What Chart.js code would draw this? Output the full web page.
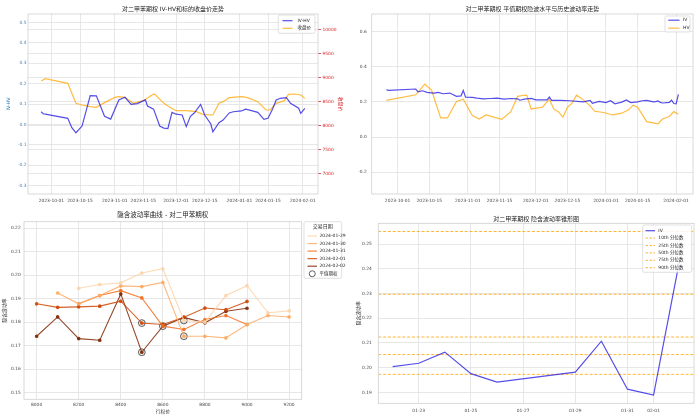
<!DOCTYPE html>
<html>
<head>
<meta charset="utf-8">
<script src="https://cdn.jsdelivr.net/npm/chart.js@4.4.1/dist/chart.umd.min.js"></script>
<style>
  html, body { margin: 0; padding: 0; background: #fff; }
  #wrap { position: relative; width: 700px; height: 419px; overflow: hidden; }
  #wrap canvas { position: absolute; }
</style>
</head>
<body>
<div id="wrap">
  <canvas id="c1" width="350" height="210" style="left:0;top:0"></canvas>
  <canvas id="c2" width="350" height="210" style="left:350px;top:0"></canvas>
  <canvas id="c3" width="350" height="209" style="left:0;top:210px"></canvas>
  <canvas id="c4" width="350" height="209" style="left:350px;top:210px"></canvas>
</div>
<script>
// ─── Data: IV-HV vs underlying close (top left) ──────────────────────────────
const ivhvDates = ['2023-09-26','2023-09-27','2023-09-28','2023-10-09','2023-10-11','2023-10-13','2023-10-16','2023-10-20','2023-10-23','2023-10-27','2023-10-30','2023-11-03','2023-11-06','2023-11-09','2023-11-12','2023-11-16','2023-11-17','2023-11-20','2023-11-23','2023-11-25','2023-11-27','2023-11-29','2023-12-01','2023-12-04','2023-12-06','2023-12-08','2023-12-10','2023-12-13','2023-12-15','2023-12-18','2023-12-19','2023-12-22','2023-12-24','2023-12-27','2023-12-29','2024-01-02','2024-01-04','2024-01-06','2024-01-10','2024-01-13','2024-01-15','2024-01-17','2024-01-19','2024-01-21','2024-01-24','2024-01-26','2024-01-30','2024-01-31','2024-02-02'];
const ivhvVals  = [0.062,0.052,0.050,0.030,-0.016,-0.041,-0.008,0.141,0.140,0.040,0.026,0.120,0.133,0.098,0.102,0.120,0.090,0.075,-0.008,-0.018,-0.020,0.059,0.050,0.046,-0.011,0.040,0.057,0.098,0.046,0.002,-0.036,0.008,0.021,0.056,0.062,0.066,0.075,0.070,0.059,0.025,0.030,0.070,0.120,0.128,0.131,0.103,0.079,0.054,0.079];

const closeDates = ['2023-09-26','2023-09-28','2023-10-09','2023-10-13','2023-10-16','2023-10-20','2023-10-23','2023-10-27','2023-11-01','2023-11-03','2023-11-06','2023-11-10','2023-11-15','2023-11-20','2023-11-21','2023-11-25','2023-11-28','2023-12-01','2023-12-06','2023-12-11','2023-12-14','2023-12-19','2023-12-22','2023-12-24','2023-12-27','2024-01-02','2024-01-05','2024-01-10','2024-01-14','2024-01-16','2024-01-19','2024-01-23','2024-01-25','2024-01-28','2024-01-31','2024-02-02'];
const closeVals  = [8927,8975,8878,8463,8428,8393,8380,8477,8587,8601,8587,8463,8518,8657,8636,8463,8380,8310,8310,8290,8234,8220,8463,8497,8580,8601,8580,8497,8324,8324,8463,8518,8650,8657,8636,8566];

const dateTicks  = ['2023-10-01','2023-10-15','2023-11-01','2023-11-15','2023-12-01','2023-12-15','2024-01-01','2024-01-15','2024-02-01'];
const ivhvTicks  = [-0.3,-0.2,-0.1,0,0.1,0.2,0.3,0.4,0.5];
const closeTicks = [7000,7500,8000,8500,9000,9500,10000];

// ─── Data: ATM IV vs HV (top right) ──────────────────────────────────────────
const ivDates = ['2023-09-26','2023-09-27','2023-10-09','2023-10-10','2023-10-12','2023-10-14','2023-10-17','2023-10-19','2023-10-21','2023-10-24','2023-10-27','2023-10-29','2023-10-30','2023-10-31','2023-11-03','2023-11-05','2023-11-08','2023-11-11','2023-11-14','2023-11-17','2023-11-20','2023-11-23','2023-11-24','2023-11-26','2023-11-29','2023-12-01','2023-12-06','2023-12-07','2023-12-08','2023-12-12','2023-12-16','2023-12-22','2023-12-25','2023-12-26','2023-12-29','2024-01-01','2024-01-03','2024-01-05','2024-01-08','2024-01-10','2024-01-12','2024-01-15','2024-01-17','2024-01-19','2024-01-22','2024-01-23','2024-01-24','2024-01-25','2024-01-26','2024-01-29','2024-01-30','2024-01-31','2024-02-01','2024-02-02'];
const ivVals  = [0.270,0.266,0.274,0.258,0.264,0.255,0.251,0.255,0.247,0.251,0.232,0.235,0.266,0.228,0.226,0.222,0.218,0.220,0.222,0.216,0.220,0.218,0.210,0.216,0.220,0.212,0.212,0.228,0.209,0.209,0.207,0.201,0.209,0.193,0.203,0.197,0.207,0.190,0.199,0.212,0.197,0.201,0.207,0.209,0.2004,0.2018,0.2063,0.1976,0.1942,0.1982,0.2107,0.1913,0.1889,0.2435];

const hvDates = ['2023-09-26','2023-10-09','2023-10-13','2023-10-16','2023-10-20','2023-10-23','2023-10-27','2023-10-30','2023-11-03','2023-11-06','2023-11-09','2023-11-16','2023-11-20','2023-11-23','2023-11-25','2023-11-27','2023-11-29','2023-12-01','2023-12-04','2023-12-07','2023-12-09','2023-12-11','2023-12-13','2023-12-15','2023-12-17','2023-12-19','2023-12-22','2023-12-25','2023-12-27','2023-12-31','2024-01-04','2024-01-08','2024-01-11','2024-01-13','2024-01-15','2024-01-19','2024-01-24','2024-01-26','2024-01-29','2024-01-31','2024-02-02'];
const hvVals  = [0.209,0.241,0.302,0.266,0.109,0.109,0.203,0.216,0.122,0.103,0.126,0.101,0.145,0.232,0.237,0.239,0.159,0.165,0.170,0.216,0.159,0.145,0.113,0.170,0.193,0.239,0.212,0.178,0.147,0.140,0.126,0.136,0.155,0.182,0.170,0.088,0.075,0.103,0.117,0.145,0.130];

const volTicks = [-0.2,0,0.2,0.4,0.6];

// ─── Data: IV smile by trade date (bottom left) ──────────────────────────────
const strikes    = [8000,8100,8200,8300,8400,8500,8600,8700,8800,8900,9000,9100,9200];
const smileDates = ['2024-01-29','2024-01-30','2024-01-31','2024-02-01','2024-02-02'];
const iv0129 = [null,null,0.1944,0.1960,0.1967,0.2009,0.2027,0.1807,0.1800,0.1913,0.1955,0.1840,0.1848];
const iv0130 = [null,0.1924,0.1878,0.1913,0.1954,0.1951,0.1969,0.1740,0.1740,0.1733,0.1790,0.1828,0.1822];
const iv0131 = [null,null,0.1878,0.1913,0.1934,0.1903,0.1783,0.1769,0.1811,0.1828,0.1790,null,null];
const iv0201 = [0.1878,0.1863,0.1865,0.1868,0.1889,0.1796,0.1790,0.1821,0.1860,0.1853,0.1888,null,null];
const iv0202 = [0.1740,0.1822,0.1730,0.1723,0.1920,0.1672,0.1783,0.1820,0.1797,0.1846,0.1859,null,null];
const atmStrikes = [8700,8700,8600,8500,8500];
const atmIvs     = [0.1807,0.1740,0.1783,0.1796,0.1672];
const strikeTicks = [8000,8200,8400,8600,8800,9000,9200];
const smileTicks  = [0.15,0.16,0.17,0.18,0.19,0.20,0.21,0.22];

// ─── Data: IV cone (bottom right) ────────────────────────────────────────────
const coneDates  = ['2024-01-22','2024-01-23','2024-01-24','2024-01-25','2024-01-26','2024-01-29','2024-01-30','2024-01-31','2024-02-01','2024-02-02'];
const coneIv     = [0.2004,0.2018,0.2063,0.1976,0.1942,0.1982,0.2107,0.1913,0.1889,0.2435];
const pctLabels  = ['10th 分位数','25th 分位数','50th 分位数','75th 分位数','90th 分位数'];
const pctVals    = [0.1973,0.2053,0.2124,0.2297,0.2551];
const coneTicks  = ['2024-01-23','2024-01-25','2024-01-27','2024-01-29','2024-01-31','2024-02-01'];
const coneYTicks = [0.19,0.20,0.21,0.22,0.23,0.24,0.25];

// ─── Style ───────────────────────────────────────────────────────────────────
const FONT   = "'DejaVu Sans','Noto Sans CJK SC',sans-serif";
const GRID   = '#e1e1e1';
const SPINE  = '#cfcfcf';
const TICK   = '#444444';
const BLUE   = 'rgba(20,10,225,0.72)';
const ORANGE = 'rgba(255,165,0,0.75)';
const RED    = '#d62728';
const SMILE_COLORS = ['rgba(253,212,170,0.85)','rgba(253,170,100,0.85)','rgba(243,112,30,0.85)','rgba(205,70,5,0.85)','rgba(127,39,4,0.85)'];

Chart.defaults.font.family = FONT;
Chart.defaults.animation = false;

// ─── Helpers ─────────────────────────────────────────────────────────────────
function dayNum(s) {
  const [y, m, d] = s.split('-').map(Number);
  return Date.UTC(y, m - 1, d) / 864e5;
}
function points(xs, ys, fx) {
  return xs.map((x, i) => ({ x: fx ? fx(x) : x, y: ys[i] })).filter(p => p.y != null);
}
function pad(lo, hi, f) {
  const r = hi - lo;
  return [lo - r * f, hi + r * f];
}

function axis(o) {
  const s = {
    type: 'linear', position: o.pos, min: o.min, max: o.max,
    grid: {
      display: true, color: GRID, lineWidth: 0.8,
      drawTicks: !!o.tickLen, tickLength: o.tickLen || 0, tickColor: o.tickColor || GRID,
    },
    border: { display: false },
    ticks: {
      autoSkip: false, maxRotation: 0, padding: o.pad,
      color: o.color || TICK, font: { family: FONT, size: 4.4 },
      callback: (v, i) => o.fmt(v, i),
    },
    afterBuildTicks: sc => { sc.ticks = o.ticks.map(v => ({ value: v })); },
    afterFit: sc => { if (o.pos === 'bottom') sc.height = o.size; else sc.width = o.size; },
  };
  if (o.title) {
    s.title = {
      display: true, text: o.title, color: o.titleColor || '#333',
      font: { family: FONT, size: 4.8 }, padding: { top: o.titlePad, bottom: o.titlePad },
    };
  }
  return s;
}

function title(text, size, top, bottom) {
  return {
    display: true, text, fullSize: false, color: '#262626',
    font: { family: FONT, size, weight: 'normal', lineHeight: 1.2 },
    padding: { top, bottom },
  };
}

// axes frame like matplotlib spines
const spines = {
  id: 'spines',
  afterDatasetsDraw(chart) {
    const { ctx, chartArea: a } = chart;
    ctx.save();
    ctx.strokeStyle = SPINE;
    ctx.lineWidth = 0.8;
    ctx.strokeRect(a.left, a.top, a.right - a.left, a.bottom - a.top);
    ctx.restore();
  },
};

// matplotlib-style legend box
function legend(cfg) {
  return {
    id: 'mplLegend',
    afterDraw(chart) {
      const ctx = chart.ctx;
      const b = cfg.box;
      ctx.save();
      ctx.fillStyle = 'rgba(255,255,255,0.85)';
      ctx.strokeStyle = '#d3d3d3';
      ctx.lineWidth = 0.7;
      ctx.beginPath();
      ctx.roundRect(b.x, b.y, b.w, b.h, 1.5);
      ctx.fill();
      ctx.stroke();
      ctx.textBaseline = 'middle';
      if (cfg.title) {
        ctx.fillStyle = '#262626';
        ctx.font = `5px ${FONT}`;
        ctx.textAlign = 'center';
        ctx.fillText(cfg.title, b.x + b.w / 2, cfg.titleY);
      }
      ctx.textAlign = 'left';
      cfg.items.forEach((it, i) => {
        const y = cfg.y0 + i * cfg.step;
        if (it.ring) {
          ctx.beginPath();
          ctx.arc((cfg.lx0 + cfg.lx1) / 2, y, 3, 0, Math.PI * 2);
          ctx.strokeStyle = 'rgba(50,50,50,0.85)';
          ctx.lineWidth = 0.9;
          ctx.stroke();
        } else {
          ctx.beginPath();
          ctx.setLineDash(it.dash || []);
          ctx.moveTo(cfg.lx0, y);
          ctx.lineTo(cfg.lx1, y);
          ctx.strokeStyle = it.color;
          ctx.lineWidth = it.width || 1.2;
          ctx.stroke();
          ctx.setLineDash([]);
        }
        ctx.fillStyle = '#262626';
        ctx.font = `4.5px ${FONT}`;
        ctx.fillText(it.label, cfg.tx, y);
      });
      ctx.restore();
    },
  };
}

function lineSet(label, data, color, yAxisID) {
  return {
    label, data, yAxisID, borderColor: color, backgroundColor: color,
    borderWidth: 1.2, pointRadius: 0, pointHoverRadius: 0, tension: 0,
  };
}

// ─── 1. IV-HV and close ──────────────────────────────────────────────────────
(function () {
  const xs = ivhvDates.concat(closeDates).map(dayNum);
  const [xmin, xmax] = pad(Math.min(...xs), Math.max(...xs), 0.05);
  const ylo = Math.min(...ivhvVals) - 0.3, yhi = Math.max(...ivhvVals) + 0.4;
  const clo = Math.min(...closeVals) * 0.8, chi = Math.max(...closeVals) * 1.15;

  new Chart(document.getElementById('c1'), {
    type: 'line',
    data: {
      datasets: [
        lineSet('IV-HV', points(ivhvDates, ivhvVals, dayNum), BLUE, 'y'),
        lineSet('收盘价', points(closeDates, closeVals, dayNum), ORANGE, 'y1'),
      ],
    },
    options: {
      responsive: false,
      layout: { padding: 0 },
      plugins: { legend: { display: false }, tooltip: { enabled: false }, title: title('对二甲苯期权 IV-HV和标的收盘价走势', 6, 5.4, 1.4) },
      scales: {
        x: axis({ pos: 'bottom', min: xmin, max: xmax, ticks: dateTicks.map(dayNum), fmt: (v, i) => dateTicks[i], size: 16, pad: 4.3 }),
        y: axis({ pos: 'left', min: ylo, max: yhi, ticks: ivhvTicks, fmt: v => v.toFixed(1), size: 28, pad: 1.5,
                  color: '#4a80b0', title: 'IV-HV', titleColor: '#1f77b4', titlePad: 6 }),
        y1: axis({ pos: 'right', min: clo, max: chi, ticks: closeTicks, fmt: v => String(v), size: 32, pad: 1.5,
                   color: RED, tickLen: 3, tickColor: RED, title: '收盘价', titleColor: RED, titlePad: 7 }),
      },
    },
    plugins: [spines, legend({
      box: { x: 278.3, y: 15, w: 36.7, h: 18.3 }, y0: 20.7, step: 7.6, lx0: 282.5, lx1: 292.5, tx: 297.5,
      items: [{ label: 'IV-HV', color: BLUE }, { label: '收盘价', color: ORANGE }],
    })],
  });
})();

// ─── 2. ATM IV vs HV ─────────────────────────────────────────────────────────
(function () {
  const xs = ivDates.concat(hvDates).map(dayNum);
  const [xmin, xmax] = pad(Math.min(...xs), Math.max(...xs), 0.05);
  const all = ivVals.concat(hvVals);
  const ylo = Math.min(...all) - 0.4, yhi = Math.max(...all) + 0.4;

  new Chart(document.getElementById('c2'), {
    type: 'line',
    data: {
      datasets: [
        lineSet('IV', points(ivDates, ivVals, dayNum), BLUE, 'y'),
        lineSet('HV', points(hvDates, hvVals, dayNum), ORANGE, 'y'),
      ],
    },
    options: {
      responsive: false,
      layout: { padding: { right: 7 } },
      plugins: { legend: { display: false }, tooltip: { enabled: false }, title: title('对二甲苯期权 平值期权隐波水平与历史波动率走势', 6, 5.4, 1.4) },
      scales: {
        x: axis({ pos: 'bottom', min: xmin, max: xmax, ticks: dateTicks.map(dayNum), fmt: (v, i) => dateTicks[i], size: 16, pad: 4.3 }),
        y: axis({ pos: 'left', min: ylo, max: yhi, ticks: volTicks, fmt: v => v.toFixed(1), size: 21.7, pad: 5 }),
      },
    },
    plugins: [spines, legend({
      box: { x: 315, y: 16, w: 25, h: 16 }, y0: 20.2, step: 8, lx0: 318.3, lx1: 329.5, tx: 333,
      items: [{ label: 'IV', color: BLUE }, { label: 'HV', color: ORANGE }],
    })],
  });
})();

// ─── 3. IV smile ─────────────────────────────────────────────────────────────
(function () {
  const series = [iv0129, iv0130, iv0131, iv0201, iv0202];
  const [xmin, xmax] = pad(Math.min(...strikes), Math.max(...strikes), 0.05);
  const vals = series.flat().filter(v => v != null);
  const ylo = Math.min(...vals) - 0.02, yhi = Math.max(...vals) + 0.02;

  const sets = series.map((vals, k) => ({
    label: smileDates[k], data: points(strikes, vals),
    borderColor: SMILE_COLORS[k], backgroundColor: SMILE_COLORS[k],
    borderWidth: 1.1, pointRadius: 1.3, pointHoverRadius: 1.3, tension: 0,
  }));
  sets.push({
    type: 'scatter', label: '平值期权', data: points(atmStrikes, atmIvs), showLine: false,
    pointRadius: 3.4, pointHoverRadius: 3.4, borderColor: 'rgba(50,50,50,0.85)', borderWidth: 0.9,
    backgroundColor: 'rgba(128,128,128,0.15)',
  });

  new Chart(document.getElementById('c3'), {
    type: 'line',
    data: { datasets: sets },
    options: {
      responsive: false,
      layout: { padding: { right: 48.3 } },
      plugins: { legend: { display: false }, tooltip: { enabled: false }, title: title('隐含波动率曲线 - 对二甲苯期权', 6.5, 1.8, 2.1) },
      scales: {
        x: axis({ pos: 'bottom', min: xmin, max: xmax, ticks: strikeTicks, fmt: v => String(v), size: 19.7, pad: 3,
                  title: '行权价', titlePad: 4.6 }),
        y: axis({ pos: 'left', min: ylo, max: yhi, ticks: smileTicks, fmt: v => v.toFixed(2), size: 24, pad: 3.3,
                  title: '隐含波动率', titlePad: 2 }),
      },
    },
    plugins: [spines, legend({
      box: { x: 304, y: 11.7, w: 37.7, h: 56.6 }, title: '交易日期', titleY: 16.8,
      y0: 26, step: 7.55, lx0: 307.5, lx1: 317, tx: 319.5,
      items: smileDates.map((d, k) => ({ label: d, color: SMILE_COLORS[k] })).concat([{ label: '平值期权', ring: true }]),
    })],
  });
})();

// ─── 4. IV cone ──────────────────────────────────────────────────────────────
(function () {
  const xs = coneDates.map(dayNum);
  const [xmin, xmax] = pad(Math.min(...xs), Math.max(...xs), 0.05);
  const all = coneIv.concat(pctVals);
  const [ylo, yhi] = pad(Math.min(...all), Math.max(...all), 0.05);

  const sets = [lineSet('IV', points(coneDates, coneIv, dayNum), BLUE, 'y')];
  pctVals.forEach((p, k) => {
    sets.push({
      label: pctLabels[k], data: [{ x: xmin, y: p }, { x: xmax, y: p }],
      borderColor: 'rgba(255,165,0,0.8)', borderWidth: 1, borderDash: [3, 1.8],
      pointRadius: 0, pointHoverRadius: 0, clip: false,
    });
  });

  new Chart(document.getElementById('c4'), {
    type: 'line',
    data: { datasets: sets },
    options: {
      responsive: false,
      layout: { padding: { right: 6 } },
      plugins: { legend: { display: false }, tooltip: { enabled: false }, title: title('对二甲苯期权 隐含波动率锥形图', 6, 5.4, 0.7) },
      scales: {
        x: axis({ pos: 'bottom', min: xmin, max: xmax, ticks: coneTicks.map(dayNum), fmt: (v, i) => coneTicks[i].slice(5), size: 15.7, pad: 5 }),
        y: axis({ pos: 'left', min: ylo, max: yhi, ticks: coneYTicks, fmt: v => v.toFixed(2), size: 28.3, pad: 6.5,
                  title: '隐含波动率', titlePad: 6.3 }),
      },
    },
    plugins: [spines, legend({
      box: { x: 292.7, y: 15, w: 49, h: 47.3 }, y0: 20.7, step: 7.4, lx0: 295.5, lx1: 305, tx: 308.3,
      items: [{ label: 'IV', color: BLUE }].concat(pctLabels.map(l => ({ label: l, color: 'rgba(255,165,0,0.8)', dash: [2.5, 1.5], width: 1 }))),
    })],
  });
})();
</script>
</body>
</html>
